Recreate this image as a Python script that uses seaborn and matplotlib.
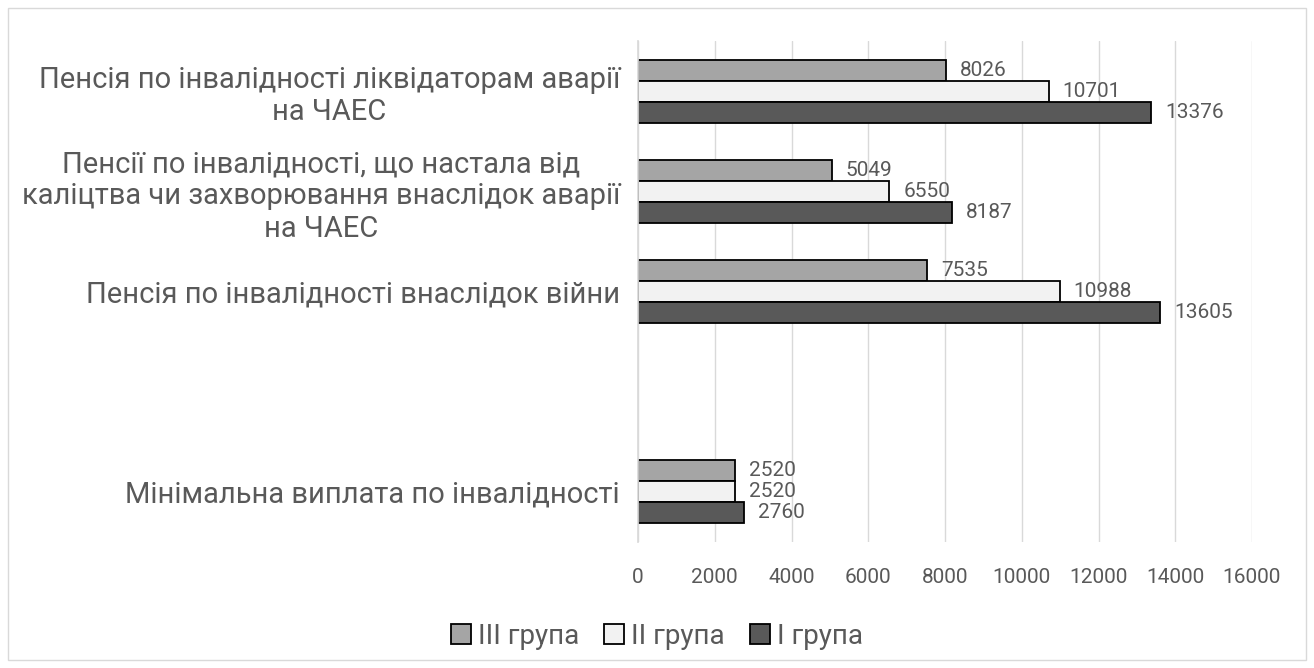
import numpy as np
import pandas as pd
import matplotlib
matplotlib.use("Agg")
import matplotlib.pyplot as plt
import seaborn as sns

categories = [
    "Пенсія по інвалідності ліквідаторам аварії\nна ЧАЕС",
    "Пенсії по інвалідності, що настала від\nкаліцтва чи захворювання внаслідок аварії\nна ЧАЕС",
    "Пенсія по інвалідності внаслідок війни",
    " ",
    "Мінімальна виплата по інвалідності",
]
series = ["III група", "II група", "I група"]
group3 = [8026, 5049, 7535, np.nan, 2520]
group2 = [10701, 6550, 10988, np.nan, 2520]
group1 = [13376, 8187, 13605, np.nan, 2760]
colors = ["#a5a5a5", "#f2f2f2", "#595959"]
x_ticks = [0, 2000, 4000, 6000, 8000, 10000, 12000, 14000, 16000]

rows = []
for s, vals in zip(series, [group3, group2, group1]):
    for c, v in zip(categories, vals):
        rows.append({"cat": c, "group": s, "value": v})
df = pd.DataFrame(rows)

sns.set_theme(style="white")
plt.rcParams["font.family"] = ["Roboto", "DejaVu Sans"]
txt = "#595959"

fig = plt.figure(figsize=(13.14, 6.68), dpi=100)
ax = fig.add_axes([638 / 1314, 1 - 542 / 668, (1252 - 638) / 1314, (542 - 41) / 668])

sns.barplot(data=df, y="cat", x="value", hue="group", order=categories,
            hue_order=series, palette=colors, orient="h", width=0.63,
            edgecolor="black", linewidth=1.3, ax=ax, legend=True)

for cont in ax.containers:
    labels = ["" if np.isnan(v) else f"{int(v)}" for v in cont.datavalues]
    ax.bar_label(cont, labels=labels, padding=10, fontsize=15, color=txt)

ax.set_xlim(0, 16000)
ax.set_xticks(x_ticks)
ax.set_xticklabels([str(t) for t in x_ticks], fontsize=15, color=txt)
ax.tick_params(axis="x", length=0, pad=19)
ax.tick_params(axis="y", length=0, pad=13)
ax.set_yticks(range(len(categories)))
ax.set_yticklabels(categories, fontsize=21, color=txt, multialignment="center",
                   linespacing=1.2)
ax.xaxis.grid(True, color="#d9d9d9", linewidth=1)
ax.set_axisbelow(True)
for side in ["top", "right", "bottom"]:
    ax.spines[side].set_visible(False)
ax.spines["left"].set_color("#d9d9d9")
ax.set_xlabel("")
ax.set_ylabel("")

handles, labels = ax.get_legend_handles_labels()
ax.legend_.remove()
fig.legend(handles, labels, loc="center", bbox_to_anchor=(0.5, 1 - 636 / 668),
           ncol=3, frameon=False, fontsize=20, labelcolor=txt,
           handlelength=0.72, handleheight=0.72, handletextpad=0.25, columnspacing=0.9)

border = plt.Rectangle((8 / 1314, 1 - 660 / 668), (1306 - 8) / 1314, (660 - 8) / 668,
                       transform=fig.transFigure, fill=False, edgecolor="#d9d9d9",
                       linewidth=1)
fig.patches.append(border)

fig.savefig("out.png", dpi=100)
